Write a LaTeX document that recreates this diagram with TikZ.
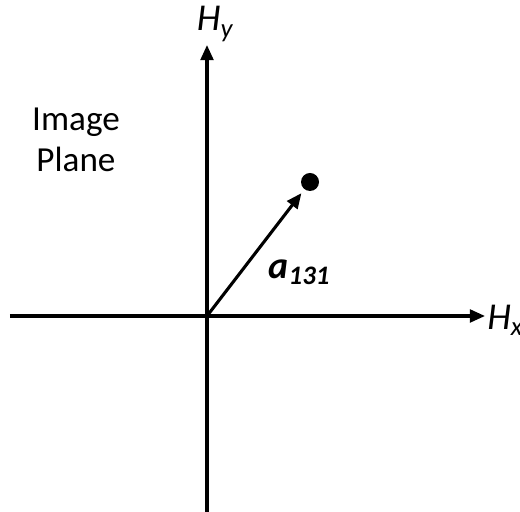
\documentclass[tikz,border=0pt]{standalone}
\usepackage{fontspec}
\setmainfont{Carlito}
\usetikzlibrary{arrows.meta}

\tikzset{
  axis/.style={line width=2.2pt, -{Triangle[length=0.38cm, width=0.32cm]}},
  vec/.style={line width=2.2pt, -{Triangle[length=0.38cm, width=0.32cm]}},
  biglabel/.style={inner sep=0pt, font=\fontsize{27}{30}\selectfont},
}

\begin{document}
\begin{tikzpicture}
  % Parameters
  \def\dotx{2.575}
  \def\doty{3.35}

  % Fix the frame
  \useasboundingbox (-5.175, -4.9) rectangle (7.825, 7.9);

  % Draw the axes
  \coordinate (O) at (0, 0);
  \coordinate (xstart) at (-4.925, 0);
  \coordinate (ybottom) at (0, -4.9);
  \node[biglabel, anchor=west] (Hx) at (7.0, -0.1) {\textit{H}\raisebox{-0.35ex}{\fontsize{19}{20}\selectfont\textit{x}}};
  \node[biglabel] (Hy) at (0.2, 7.3) {\textit{H}\raisebox{-0.35ex}{\fontsize{19}{20}\selectfont\textit{y}}};
  \draw[axis] (xstart) -- (6.95, 0);
  \draw[axis] (ybottom) -- (0, 6.775);

  % Point and its vector
  \node[circle, fill, inner sep=0pt, minimum size=0.45cm] (pt) at (\dotx, \doty) {};
  \draw[vec, shorten >=0.12cm] (O) -- (pt);
  \node[biglabel] (a) at (2.3, 1.1) {\bfseries\itshape a\raisebox{-0.3ex}{\fontsize{19}{20}\selectfont 131}};

  % Plane label
  \node[biglabel, align=center, font=\fontsize{25}{29}\selectfont] (plane) at (-3.275, 4.4) {Image\\Plane};
\end{tikzpicture}
\end{document}
